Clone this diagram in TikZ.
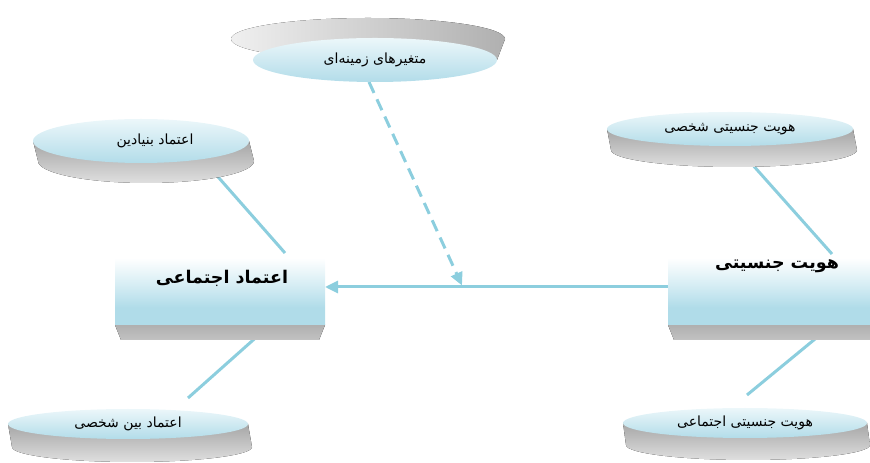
\documentclass[tikz,border=0pt]{standalone}
\usepackage{fontspec}
\newfontfamily\fa[Script=Arabic]{DejaVu Sans}
\TeXXeTstate=1
\usetikzlibrary{shapes.geometric,arrows.meta,calc}
\pgfdeclarelayer{bg}
\pgfsetlayers{bg,main}
\definecolor{conn}{RGB}{140,206,222}
\definecolor{elltop}{RGB}{236,247,250}
\definecolor{ellbot}{RGB}{178,220,233}
\definecolor{rectblue}{RGB}{176,220,233}
\definecolor{rectlight}{RGB}{214,237,244}
\pgfdeclareverticalshading{rectshade}{100bp}{color(0bp)=(rectblue); color(25bp)=(rectblue); color(38bp)=(rectblue); color(55bp)=(rectlight); color(75bp)=(white); color(100bp)=(white)}
\tikzset{
 disc/.style={ellipse, inner sep=0pt, outer sep=0pt, top color=elltop, bottom color=ellbot, font=\fa\fontsize{14}{16}\selectfont},
 box/.style={rectangle, inner sep=0pt, outer sep=0pt, shading=rectshade},
 boxtext/.style={font=\fa\bfseries\fontsize{17.5}{20}\selectfont},
 rim/.style={top color=gray!70, bottom color=gray!25},
 boxrim/.style={top color=gray!62, bottom color=gray!48},
 toprim/.style={left color=gray!12, right color=gray!62},
 link/.style={draw=conn, line width=3pt},
 tip/.style={-{Triangle[length=13pt,width=12pt]}}
}
\begin{document}
\begin{tikzpicture}[x=1pt,y=1pt]
\useasboundingbox (0,0) rectangle (870,463);
% rims
\fill[toprim] (368,424) ellipse[x radius=137pt, y radius=21pt]
  (375,403) -- (497,403) -- (505,424) -- (368,424) -- cycle;
\fill[rim] (33,322) -- (38,302) arc[start angle=180,end angle=360,x radius=108pt,y radius=22pt] -- (249,322) -- cycle;
\fill[rim] (607,334) -- (611,313) arc[start angle=180,end angle=360,x radius=123pt,y radius=17pt] -- (853,334) -- cycle;
\fill[rim] (8,39) -- (12,16) arc[start angle=180,end angle=360,x radius=120pt,y radius=15pt] -- (248,39) -- cycle;
\fill[rim] (623,40) -- (626,18) arc[start angle=180,end angle=360,x radius=122pt,y radius=15pt] -- (867,40) -- cycle;
\fill[boxrim] (115,138) -- (325,138) -- (319,123) -- (121,123) -- cycle;
\fill[boxrim] (668,138) -- (870,138) -- (870,123) -- (674,123) -- cycle;
% nodes
\node[disc, minimum width=244pt, minimum height=44pt] (ctx) at (375,403) {\beginR متغیرهای زمینه‌ای\endR};
\node[disc, minimum width=216pt, minimum height=44pt] (tl) at (141,322) {\hspace*{28pt}\beginR اعتماد بنیادین\endR};
\node[disc, minimum width=246pt, minimum height=34pt] (tr) at (730,334) {\beginR هویت جنسیتی شخصی\endR};
\node[disc, minimum width=240pt, minimum height=30pt] (bl) at (128,39) {\beginR اعتماد بین شخصی\endR};
\node[disc, minimum width=244pt, minimum height=30pt] (br) at (745,40) {\beginR هویت جنسیتی اجتماعی\endR};
\node[box, minimum width=210pt, minimum height=67pt] (lr) at (220,171.5) {};
\node[boxtext] (lrt) at (222,185) {\beginR اعتماد اجتماعی\endR};
\node[box, minimum width=202pt, minimum height=67pt] (rr) at (769,171.5) {};
\node[boxtext] (rrt) at (777,197) {\beginR هویت جنسیتی\endR};
% connectors
\begin{pgfonlayer}{bg}
\draw[link] ($(tl.center)+(56,-12)$) -- ($(lr.north)+(65,5)$);
\draw[link] ($(lr.south)+(50,0)$) -- ($(bl.center)+(60,26)$);
\draw[link] ($(tr.center)+(13,-25)$) -- ($(rr.north)+(63,4)$);
\draw[link] ($(rr.south)+(63,0)$) -- ($(br.center)+(2,28)$);
\draw[link, tip] (rr.west |- 0,176) -- (lr.east |- 0,176);
\coordinate (mid) at (462,176);
\draw[link, tip, dash pattern=on 12pt off 7pt] ($(ctx.south)+(-6,0)$) -- ($(mid)+(0,1.5)$);
\end{pgfonlayer}
\end{tikzpicture}
\end{document}
